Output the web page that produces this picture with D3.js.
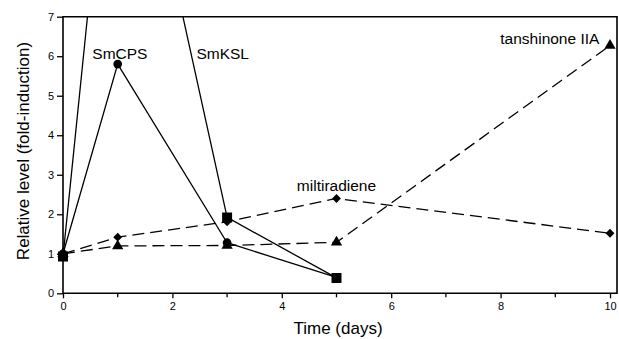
<!DOCTYPE html>
<html><head><meta charset="utf-8">
<script src="https://cdn.jsdelivr.net/npm/d3@7"></script>
<style>body{margin:0;background:#fff}svg{display:block}text{font-family:"Liberation Sans",Arial,sans-serif}</style>
</head><body>
<svg id="c" width="619" height="339"></svg>
<script>
const days = [0, 1, 3, 5, 10];
const smCPS = [1.0, 5.8, 1.28, 0.4];
const smKSL = [0.93, 14.5, 1.92, 0.39];
const miltiradiene = [1.0, 1.42, 1.81, 2.4, 1.52];
const tanshinone = [1.0, 1.2, 1.21, 1.29, 6.27];
const xTicks = [0, 2, 4, 6, 8, 10];
const xMinor = [1, 3, 5, 7, 9];
const yTicks = [0, 1, 2, 3, 4, 5, 6, 7];
const labels = [
  {t: "SmCPS", x: 1.04, y: 5.94},
  {t: "SmKSL", x: 2.92, y: 5.94},
  {t: "miltiradiene", x: 5.0, y: 2.6},
  {t: "tanshinone IIA", x: 8.9, y: 6.3}
];

const svg = d3.select("#c");
const x = d3.scaleLinear().domain([0, 10]).range([63, 610]);
const y = d3.scaleLinear().domain([0, 7]).range([293.3, 16.7]);
const right = 617;

svg.append("defs").append("clipPath").attr("id", "clip")
  .append("rect").attr("x", 50).attr("y", y(7)).attr("width", right - 50).attr("height", y(0) - y(7) + 20);

const gx = svg.append("g").attr("transform", `translate(0,${y(0)})`)
  .call(d3.axisBottom(x).tickValues(xTicks).tickSize(5).tickPadding(4).tickFormat(d3.format("d")));
gx.select(".domain").remove();
gx.selectAll("text").attr("font-size", 11).attr("font-family", "Liberation Sans, Arial, sans-serif");
gx.selectAll(".tick line").attr("stroke-width", 1.3);
svg.append("g").attr("transform", `translate(0,${y(0)})`)
  .selectAll("line").data(xMinor).join("line")
  .attr("x1", d => x(d)).attr("x2", d => x(d)).attr("y1", 0).attr("y2", 4)
  .attr("stroke", "#000").attr("stroke-width", 1.3);

const gy = svg.append("g").attr("transform", `translate(${x(0)},0)`)
  .call(d3.axisLeft(y).tickValues(yTicks).tickSize(6).tickPadding(3).tickFormat(d3.format("d")));
gy.select(".domain").remove();
gy.selectAll("text").attr("font-size", 11).attr("font-family", "Liberation Sans, Arial, sans-serif");
gy.selectAll(".tick line").attr("stroke-width", 1.3);

svg.append("path")
  .attr("d", `M${x(0)},${y(0)}H${right}V${y(7)}H${x(0)}Z`)
  .attr("fill", "none").attr("stroke", "#000").attr("stroke-width", 1.6);

const plot = svg.append("g").attr("clip-path", "url(#clip)");
function series(vals, dashed) {
  const pts = vals.map((v, i) => [days[i], v]);
  plot.append("path").datum(pts)
    .attr("d", d3.line().x(d => x(d[0])).y(d => y(d[1])))
    .attr("fill", "none").attr("stroke", "#000").attr("stroke-width", 1.3)
    .attr("stroke-dasharray", dashed ? "12,6" : null);
  return pts.filter(p => p[1] <= 7);
}
const sym = (type, size) => d3.symbol().type(type).size(size)();
function markers(pts, type, size) {
  plot.append("g").selectAll("path").data(pts).join("path")
    .attr("transform", d => `translate(${x(d[0])},${y(d[1])})`)
    .attr("d", sym(type, size)).attr("fill", "#000");
}

const pT = series(tanshinone, true);
const pM = series(miltiradiene, true);
const pC = series(smCPS, false);
const pK = series(smKSL, false);
markers(pT, d3.symbolTriangle, 55);
markers(pM, d3.symbolDiamond2, 50);
markers(pC, d3.symbolCircle, 60);
markers(pK, d3.symbolSquare, 100);

svg.append("g").selectAll("text").data(labels).join("text")
  .attr("x", d => x(d.x)).attr("y", d => y(d.y)).attr("text-anchor", "middle")
  .attr("font-size", 15.5).text(d => d.t);

svg.append("text").attr("x", 338).attr("y", 334).attr("text-anchor", "middle")
  .attr("font-size", 17).text("Time (days)");
svg.append("text").attr("transform", "translate(29,151) rotate(-90)").attr("text-anchor", "middle")
  .attr("font-size", 17).text("Relative level (fold-induction)");
</script>
</body></html>
